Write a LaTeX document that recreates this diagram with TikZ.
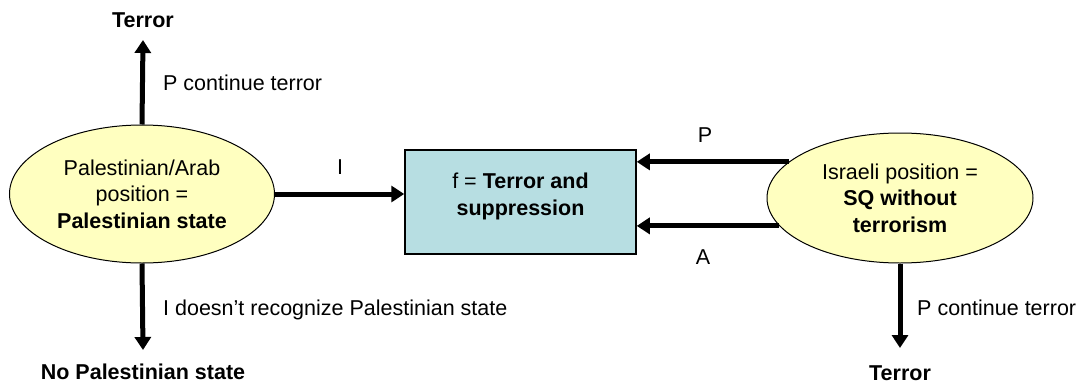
\documentclass[tikz,border=0pt]{standalone}
\usepackage{fontspec}
\setmainfont{Liberation Sans}
\usetikzlibrary{arrows.meta,shapes.geometric}
\definecolor{ellfill}{HTML}{FFFFC0}
\definecolor{boxfill}{HTML}{B7DEE2}
\begin{document}
\begin{tikzpicture}[x=1pt,y=-1pt,
  txt/.style={font=\fontsize{21.5}{26.5}\selectfont, inner sep=0pt, align=center},
  ell/.style={ellipse, draw=black, line width=1pt, fill=ellfill, inner sep=0pt, txt},
  fbox/.style={rectangle, draw=black, line width=1.5pt, fill=boxfill, inner sep=0pt, txt},
  arr/.style={line width=5pt, -{Triangle[length=13pt,width=16pt]}}
]
\useasboundingbox (0,0) rectangle (1090,383);
\node[ell, minimum width=265pt, minimum height=138pt] (L) at (142,194) {Palestinian/Arab\\position =\\\textbf{Palestinian state}};
\node[ell, minimum width=266pt, minimum height=130pt] (R) at (900,198) {Israeli position =\\\textbf{SQ without}\\\textbf{terrorism}};
\node[fbox, minimum width=231pt, minimum height=104pt] (F) at (520.5,202) {};
\node[txt] (Ft) at (520.5,196.5) {f = \textbf{Terror and}\\\textbf{suppression}};

\node[txt, font=\fontsize{21.5}{26.5}\selectfont\bfseries] (T1) at (143,20) {Terror};
\node[txt, font=\fontsize{21.5}{26.5}\selectfont\bfseries] (N) at (143,372) {No Palestinian state};
\node[txt, font=\fontsize{21.5}{26.5}\selectfont\bfseries] (T2) at (900,373) {Terror};
\coordinate (t1tip) at (143,40);
\coordinate (ntip) at (143,350);
\coordinate (t2tip) at (900,348);

\draw[arr] (L.north) -- (t1tip);
\draw[arr] (L.south) -- (ntip);
\draw[arr] (L.east) -- (L.east -| F.west);
\draw[arr] (R.162.6) -- (R.162.6 -| F.east);
\draw[arr] (R.193.1) -- (R.193.1 -| F.east);
\draw[arr] (R.south) -- (t2tip);

\node[txt, anchor=west] (lp) at (163,83) {P continue terror};
\node[txt, anchor=west] (ln) at (163,310) {I doesn’t recognize Palestinian state};
\node[txt] (li) at (340,167) {I};
\node[txt] (lP) at (705,135) {P};
\node[txt] (lA) at (703,257) {A};
\node[txt, anchor=west] (lr) at (917,308) {P continue terror};
\end{tikzpicture}
\end{document}
